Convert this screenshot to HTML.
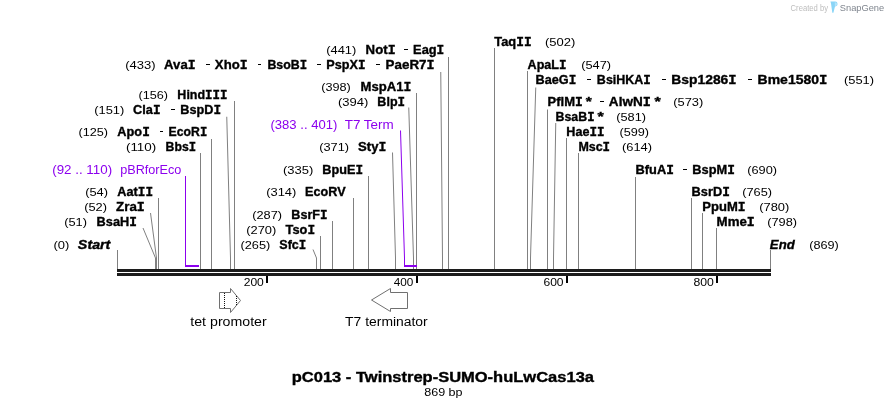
<!DOCTYPE html>
<html><head><meta charset="utf-8"><style>
html,body{margin:0;padding:0;background:#fff;}
svg{display:block;font-family:"Liberation Sans", sans-serif;will-change:transform;}
</style></head><body>
<svg width="888" height="408" viewBox="0 0 888 408">
<rect width="888" height="408" fill="#fff"/>
<rect x="117" y="269" width="654" height="3" fill="#1c1c1c"/>
<rect x="117" y="273" width="654" height="3" fill="#1c1c1c"/>
<rect x="266" y="276" width="2" height="7" fill="#000"/>
<rect x="416" y="276" width="2" height="7" fill="#000"/>
<rect x="566" y="276" width="2" height="7" fill="#000"/>
<rect x="716" y="276" width="2" height="7" fill="#000"/>
<rect x="117" y="250" width="1" height="19" fill="#808080"/>
<rect x="770" y="250" width="1" height="19" fill="#808080"/>
<rect x="158" y="198" width="1" height="71" fill="#808080"/>
<rect x="200" y="153" width="1" height="116" fill="#808080"/>
<rect x="211" y="139" width="1" height="130" fill="#808080"/>
<rect x="234" y="101" width="1" height="168" fill="#808080"/>
<rect x="320" y="236" width="1" height="33" fill="#808080"/>
<rect x="332" y="221" width="1" height="48" fill="#808080"/>
<rect x="353" y="198" width="1" height="71" fill="#808080"/>
<rect x="368" y="176" width="1" height="93" fill="#808080"/>
<rect x="416" y="93" width="1" height="176" fill="#808080"/>
<rect x="448" y="57" width="1" height="212" fill="#808080"/>
<rect x="494" y="48" width="1" height="221" fill="#808080"/>
<rect x="527" y="71" width="1" height="198" fill="#808080"/>
<rect x="547" y="109.5" width="1" height="159.5" fill="#808080"/>
<rect x="566" y="138" width="1" height="131" fill="#808080"/>
<rect x="578" y="153" width="1" height="116" fill="#808080"/>
<rect x="635" y="177" width="1" height="92" fill="#808080"/>
<rect x="691" y="198" width="1" height="71" fill="#808080"/>
<rect x="702" y="213" width="1" height="56" fill="#808080"/>
<rect x="716" y="228" width="1" height="41" fill="#808080"/>
<polyline points="150.5,213 156.5,258 156.5,269" fill="none" stroke="#808080" stroke-width="1"/>
<polyline points="143.0,228 155.5,258 155.5,269" fill="none" stroke="#808080" stroke-width="1"/>
<polyline points="226.75,116.75 230.5,258 230.5,269" fill="none" stroke="#808080" stroke-width="1"/>
<polyline points="313.0,249.5 316.5,258 316.5,269" fill="none" stroke="#808080" stroke-width="1"/>
<polyline points="392.5,152.5 395.5,258 395.5,269" fill="none" stroke="#808080" stroke-width="1"/>
<polyline points="408.75,107.5 413.5,258 413.5,269" fill="none" stroke="#808080" stroke-width="1"/>
<polyline points="440.75,72 442.5,258 442.5,269" fill="none" stroke="#808080" stroke-width="1"/>
<polyline points="535.75,87.5 530.5,258 530.5,269" fill="none" stroke="#808080" stroke-width="1"/>
<polyline points="555.75,123 553.5,258 553.5,269" fill="none" stroke="#808080" stroke-width="1"/>
<rect x="185" y="176" width="1" height="91" fill="#8c00ee"/>
<rect x="185" y="265" width="14" height="2" fill="#8c00ee"/>
<polyline points="400.5,130.5 404.5,258 404.5,265" fill="none" stroke="#8c00ee" stroke-width="1"/>
<rect x="404" y="265" width="13" height="2" fill="#8c00ee"/>
<rect x="206" y="64" width="4" height="1" fill="#000"/>
<rect x="258" y="64" width="3" height="1" fill="#000"/>
<rect x="317" y="64" width="4" height="1" fill="#000"/>
<rect x="376" y="64" width="4" height="1" fill="#000"/>
<rect x="404" y="49" width="4" height="1" fill="#000"/>
<rect x="171" y="109" width="4" height="1" fill="#000"/>
<rect x="160" y="131" width="3" height="1" fill="#000"/>
<rect x="587" y="79" width="4" height="1" fill="#000"/>
<rect x="662" y="79" width="4" height="1" fill="#000"/>
<rect x="748" y="79" width="4" height="1" fill="#000"/>
<rect x="600" y="101" width="4" height="1" fill="#000"/>
<rect x="683" y="169" width="4" height="1" fill="#000"/>
<polygon points="219.5,292.5 230.5,292.5 230.5,288.5 240.5,300.5 230.5,312.5 230.5,308.5 219.5,308.5" fill="#fff" stroke="#707070" stroke-width="1"/>
<rect x="224" y="293" width="1" height="1" fill="#111"/>
<rect x="224" y="295" width="1" height="1" fill="#111"/>
<rect x="224" y="297" width="1" height="1" fill="#111"/>
<rect x="224" y="299" width="1" height="1" fill="#111"/>
<rect x="224" y="301" width="1" height="1" fill="#111"/>
<rect x="224" y="303" width="1" height="1" fill="#111"/>
<rect x="224" y="305" width="1" height="1" fill="#111"/>
<rect x="224" y="307" width="1" height="1" fill="#111"/>
<rect x="236" y="296" width="1" height="1" fill="#111"/>
<rect x="236" y="298" width="1" height="1" fill="#111"/>
<rect x="236" y="300" width="1" height="1" fill="#111"/>
<rect x="236" y="302" width="1" height="1" fill="#111"/>
<rect x="236" y="304" width="1" height="1" fill="#111"/>
<polygon points="407.5,292.5 390.5,292.5 390.5,288.5 371.5,300 390.5,311.5 390.5,308.5 407.5,308.5" fill="#fff" stroke="#707070" stroke-width="1"/>
<text x="790.6" y="11" font-size="8.2" textLength="37.4" lengthAdjust="spacingAndGlyphs" fill="#bdbdbd">Created by</text>
<path d="M830.4,1.4 L835.2,1.4 C836.8,1.6 837.6,2.6 837.5,4.2 C837.4,5.6 836.4,6.4 835,6.4 L833.4,12.8 L832.3,12.8 L831,3.6 Z" fill="#8ad5f7"/>
<path d="M834.8,2.2 C836.4,2.3 837,3.2 837,4.2 C836.9,5.3 836.2,5.9 834.9,6 Z" fill="#b4e5fb"/>
<text x="839.8" y="11" font-size="9.6" textLength="44.4" lengthAdjust="spacingAndGlyphs" fill="#7f858e">SnapGene</text>
<text x="125.20" y="69" textLength="30.33" lengthAdjust="spacingAndGlyphs" font-size="11.3" font-weight="normal" font-style="normal" fill="#000">(433)</text>
<text x="164.12" y="69" textLength="31.46" lengthAdjust="spacingAndGlyphs" font-size="12.4" font-weight="bold" font-style="normal" fill="#000" stroke="#000" stroke-width="0.35">Ava<tspan font-family="Liberation Mono">I</tspan></text>
<text x="214.88" y="69" textLength="32.71" lengthAdjust="spacingAndGlyphs" font-size="12.4" font-weight="bold" font-style="normal" fill="#000" stroke="#000" stroke-width="0.35">Xho<tspan font-family="Liberation Mono">I</tspan></text>
<text x="267.38" y="69" textLength="39.68" lengthAdjust="spacingAndGlyphs" font-size="12.4" font-weight="bold" font-style="normal" fill="#000" stroke="#000" stroke-width="0.35">BsoB<tspan font-family="Liberation Mono">I</tspan></text>
<text x="326.38" y="69" textLength="39.19" lengthAdjust="spacingAndGlyphs" font-size="12.4" font-weight="bold" font-style="normal" fill="#000" stroke="#000" stroke-width="0.35">PspX<tspan font-family="Liberation Mono">I</tspan></text>
<text x="385.62" y="69" textLength="48.97" lengthAdjust="spacingAndGlyphs" font-size="12.4" font-weight="bold" font-style="normal" fill="#000" stroke="#000" stroke-width="0.35">PaeR7<tspan font-family="Liberation Mono">I</tspan></text>
<text x="326.20" y="54" textLength="30.08" lengthAdjust="spacingAndGlyphs" font-size="11.3" font-weight="normal" font-style="normal" fill="#000">(441)</text>
<text x="365.62" y="54" textLength="29.96" lengthAdjust="spacingAndGlyphs" font-size="12.4" font-weight="bold" font-style="normal" fill="#000" stroke="#000" stroke-width="0.35">Not<tspan font-family="Liberation Mono">I</tspan></text>
<text x="413.12" y="54" textLength="31.20" lengthAdjust="spacingAndGlyphs" font-size="12.4" font-weight="bold" font-style="normal" fill="#000" stroke="#000" stroke-width="0.35">Eag<tspan font-family="Liberation Mono">I</tspan></text>
<text x="138.45" y="99" textLength="29.58" lengthAdjust="spacingAndGlyphs" font-size="11.3" font-weight="normal" font-style="normal" fill="#000">(156)</text>
<text x="177.38" y="99" textLength="50.19" lengthAdjust="spacingAndGlyphs" font-size="12.4" font-weight="bold" font-style="normal" fill="#000" stroke="#000" stroke-width="0.35">Hind<tspan font-family="Liberation Mono">I</tspan><tspan font-family="Liberation Mono">I</tspan><tspan font-family="Liberation Mono">I</tspan></text>
<text x="94.20" y="114" textLength="30.08" lengthAdjust="spacingAndGlyphs" font-size="11.3" font-weight="normal" font-style="normal" fill="#000">(151)</text>
<text x="133.12" y="114" textLength="27.45" lengthAdjust="spacingAndGlyphs" font-size="12.4" font-weight="bold" font-style="normal" fill="#000" stroke="#000" stroke-width="0.35">Cla<tspan font-family="Liberation Mono">I</tspan></text>
<text x="180.38" y="114" textLength="40.70" lengthAdjust="spacingAndGlyphs" font-size="12.4" font-weight="bold" font-style="normal" fill="#000" stroke="#000" stroke-width="0.35">BspD<tspan font-family="Liberation Mono">I</tspan></text>
<text x="321.20" y="91" textLength="29.58" lengthAdjust="spacingAndGlyphs" font-size="11.3" font-weight="normal" font-style="normal" fill="#000">(398)</text>
<text x="360.62" y="91" textLength="50.71" lengthAdjust="spacingAndGlyphs" font-size="12.4" font-weight="bold" font-style="normal" fill="#000" stroke="#000" stroke-width="0.35">MspA1<tspan font-family="Liberation Mono">I</tspan></text>
<text x="337.95" y="106" textLength="30.33" lengthAdjust="spacingAndGlyphs" font-size="11.3" font-weight="normal" font-style="normal" fill="#000">(394)</text>
<text x="377.38" y="106" textLength="27.69" lengthAdjust="spacingAndGlyphs" font-size="12.4" font-weight="bold" font-style="normal" fill="#000" stroke="#000" stroke-width="0.35">Blp<tspan font-family="Liberation Mono">I</tspan></text>
<text x="270.45" y="129" textLength="66.91" lengthAdjust="spacingAndGlyphs" font-size="12.2" font-weight="normal" font-style="normal" fill="#8c00ee">(383 .. 401)</text>
<text x="344.70" y="129" textLength="49.02" lengthAdjust="spacingAndGlyphs" font-size="12.2" font-weight="normal" font-style="normal" fill="#8c00ee">T7 Term</text>
<text x="78.45" y="136" textLength="29.58" lengthAdjust="spacingAndGlyphs" font-size="11.3" font-weight="normal" font-style="normal" fill="#000">(125)</text>
<text x="117.38" y="136" textLength="32.45" lengthAdjust="spacingAndGlyphs" font-size="12.4" font-weight="bold" font-style="normal" fill="#000" stroke="#000" stroke-width="0.35">Apo<tspan font-family="Liberation Mono">I</tspan></text>
<text x="168.62" y="136" textLength="38.68" lengthAdjust="spacingAndGlyphs" font-size="12.4" font-weight="bold" font-style="normal" fill="#000" stroke="#000" stroke-width="0.35">EcoR<tspan font-family="Liberation Mono">I</tspan></text>
<text x="125.95" y="151" textLength="30.32" lengthAdjust="spacingAndGlyphs" font-size="11.3" font-weight="normal" font-style="normal" fill="#000">(110)</text>
<text x="165.62" y="151" textLength="30.43" lengthAdjust="spacingAndGlyphs" font-size="12.4" font-weight="bold" font-style="normal" fill="#000" stroke="#000" stroke-width="0.35">Bbs<tspan font-family="Liberation Mono">I</tspan></text>
<text x="319.20" y="151" textLength="29.83" lengthAdjust="spacingAndGlyphs" font-size="11.3" font-weight="normal" font-style="normal" fill="#000">(371)</text>
<text x="358.12" y="151" textLength="28.21" lengthAdjust="spacingAndGlyphs" font-size="12.4" font-weight="bold" font-style="normal" fill="#000" stroke="#000" stroke-width="0.35">Sty<tspan font-family="Liberation Mono">I</tspan></text>
<text x="52.20" y="174" textLength="59.91" lengthAdjust="spacingAndGlyphs" font-size="12.2" font-weight="normal" font-style="normal" fill="#8c00ee">(92 .. 110)</text>
<text x="120.20" y="174" textLength="61.12" lengthAdjust="spacingAndGlyphs" font-size="12.2" font-weight="normal" font-style="normal" fill="#8c00ee">pBRforEco</text>
<text x="282.95" y="174" textLength="30.33" lengthAdjust="spacingAndGlyphs" font-size="11.3" font-weight="normal" font-style="normal" fill="#000">(335)</text>
<text x="322.38" y="174" textLength="40.70" lengthAdjust="spacingAndGlyphs" font-size="12.4" font-weight="bold" font-style="normal" fill="#000" stroke="#000" stroke-width="0.35">BpuE<tspan font-family="Liberation Mono">I</tspan></text>
<text x="85.20" y="196" textLength="22.83" lengthAdjust="spacingAndGlyphs" font-size="11.3" font-weight="normal" font-style="normal" fill="#000">(54)</text>
<text x="117.38" y="196" textLength="35.70" lengthAdjust="spacingAndGlyphs" font-size="12.4" font-weight="bold" font-style="normal" fill="#000" stroke="#000" stroke-width="0.35">Aat<tspan font-family="Liberation Mono">I</tspan><tspan font-family="Liberation Mono">I</tspan></text>
<text x="266.20" y="196" textLength="30.08" lengthAdjust="spacingAndGlyphs" font-size="11.3" font-weight="normal" font-style="normal" fill="#000">(314)</text>
<text x="305.12" y="196" textLength="40.50" lengthAdjust="spacingAndGlyphs" font-size="12.4" font-weight="bold" font-style="normal" fill="#000" stroke="#000" stroke-width="0.35">EcoRV</text>
<text x="84.20" y="211" textLength="22.83" lengthAdjust="spacingAndGlyphs" font-size="11.3" font-weight="normal" font-style="normal" fill="#000">(52)</text>
<text x="116.12" y="211" textLength="28.72" lengthAdjust="spacingAndGlyphs" font-size="12.4" font-weight="bold" font-style="normal" fill="#000" stroke="#000" stroke-width="0.35">Zra<tspan font-family="Liberation Mono">I</tspan></text>
<text x="252.20" y="219" textLength="29.83" lengthAdjust="spacingAndGlyphs" font-size="11.3" font-weight="normal" font-style="normal" fill="#000">(287)</text>
<text x="291.38" y="219" textLength="36.19" lengthAdjust="spacingAndGlyphs" font-size="12.4" font-weight="bold" font-style="normal" fill="#000" stroke="#000" stroke-width="0.35">BsrF<tspan font-family="Liberation Mono">I</tspan></text>
<text x="64.20" y="226" textLength="22.83" lengthAdjust="spacingAndGlyphs" font-size="11.3" font-weight="normal" font-style="normal" fill="#000">(51)</text>
<text x="96.62" y="226" textLength="40.20" lengthAdjust="spacingAndGlyphs" font-size="12.4" font-weight="bold" font-style="normal" fill="#000" stroke="#000" stroke-width="0.35">BsaH<tspan font-family="Liberation Mono">I</tspan></text>
<text x="246.20" y="234" textLength="30.08" lengthAdjust="spacingAndGlyphs" font-size="11.3" font-weight="normal" font-style="normal" fill="#000">(270)</text>
<text x="285.62" y="234" textLength="29.45" lengthAdjust="spacingAndGlyphs" font-size="12.4" font-weight="bold" font-style="normal" fill="#000" stroke="#000" stroke-width="0.35">Tso<tspan font-family="Liberation Mono">I</tspan></text>
<text x="53.45" y="249" textLength="15.83" lengthAdjust="spacingAndGlyphs" font-size="11.3" font-weight="normal" font-style="normal" fill="#000">(0)</text>
<text x="77.88" y="249" textLength="32.49" lengthAdjust="spacingAndGlyphs" font-size="12.4" font-weight="bold" font-style="italic" fill="#000" stroke="#000" stroke-width="0.35">Start</text>
<text x="240.45" y="249" textLength="29.83" lengthAdjust="spacingAndGlyphs" font-size="11.3" font-weight="normal" font-style="normal" fill="#000">(265)</text>
<text x="279.38" y="249" textLength="26.94" lengthAdjust="spacingAndGlyphs" font-size="12.4" font-weight="bold" font-style="normal" fill="#000" stroke="#000" stroke-width="0.35">Sfc<tspan font-family="Liberation Mono">I</tspan></text>
<text x="494.38" y="46" textLength="37.20" lengthAdjust="spacingAndGlyphs" font-size="12.4" font-weight="bold" font-style="normal" fill="#000" stroke="#000" stroke-width="0.35">Taq<tspan font-family="Liberation Mono">I</tspan><tspan font-family="Liberation Mono">I</tspan></text>
<text x="544.95" y="46" textLength="30.33" lengthAdjust="spacingAndGlyphs" font-size="11.3" font-weight="normal" font-style="normal" fill="#000">(502)</text>
<text x="527.62" y="69" textLength="38.94" lengthAdjust="spacingAndGlyphs" font-size="12.4" font-weight="bold" font-style="normal" fill="#000" stroke="#000" stroke-width="0.35">ApaL<tspan font-family="Liberation Mono">I</tspan></text>
<text x="581.20" y="69" textLength="29.83" lengthAdjust="spacingAndGlyphs" font-size="11.3" font-weight="normal" font-style="normal" fill="#000">(547)</text>
<text x="535.62" y="84" textLength="40.70" lengthAdjust="spacingAndGlyphs" font-size="12.4" font-weight="bold" font-style="normal" fill="#000" stroke="#000" stroke-width="0.35">BaeG<tspan font-family="Liberation Mono">I</tspan></text>
<text x="596.88" y="84" textLength="53.94" lengthAdjust="spacingAndGlyphs" font-size="12.4" font-weight="bold" font-style="normal" fill="#000" stroke="#000" stroke-width="0.35">BsiHKA<tspan font-family="Liberation Mono">I</tspan></text>
<text x="671.38" y="84" textLength="65.24" lengthAdjust="spacingAndGlyphs" font-size="12.4" font-weight="bold" font-style="normal" fill="#000" stroke="#000" stroke-width="0.35">Bsp1286<tspan font-family="Liberation Mono">I</tspan></text>
<text x="757.62" y="84" textLength="69.74" lengthAdjust="spacingAndGlyphs" font-size="12.4" font-weight="bold" font-style="normal" fill="#000" stroke="#000" stroke-width="0.35">Bme1580<tspan font-family="Liberation Mono">I</tspan></text>
<text x="843.95" y="84" textLength="30.08" lengthAdjust="spacingAndGlyphs" font-size="11.3" font-weight="normal" font-style="normal" fill="#000">(551)</text>
<text x="547.62" y="106" textLength="35.21" lengthAdjust="spacingAndGlyphs" font-size="12.4" font-weight="bold" font-style="normal" fill="#000" stroke="#000" stroke-width="0.35">PflM<tspan font-family="Liberation Mono">I</tspan></text>
<text x="585.88" y="106" textLength="6.03" lengthAdjust="spacingAndGlyphs" font-size="12.4" font-weight="bold" font-style="normal" fill="#000" stroke="#000" stroke-width="0.35">*</text>
<text x="608.88" y="106" textLength="41.98" lengthAdjust="spacingAndGlyphs" font-size="12.4" font-weight="bold" font-style="normal" fill="#000" stroke="#000" stroke-width="0.35">AlwN<tspan font-family="Liberation Mono">I</tspan></text>
<text x="654.62" y="106" textLength="6.27" lengthAdjust="spacingAndGlyphs" font-size="12.4" font-weight="bold" font-style="normal" fill="#000" stroke="#000" stroke-width="0.35">*</text>
<text x="673.20" y="106" textLength="30.08" lengthAdjust="spacingAndGlyphs" font-size="11.3" font-weight="normal" font-style="normal" fill="#000">(573)</text>
<text x="555.62" y="121" textLength="38.93" lengthAdjust="spacingAndGlyphs" font-size="12.4" font-weight="bold" font-style="normal" fill="#000" stroke="#000" stroke-width="0.35">BsaB<tspan font-family="Liberation Mono">I</tspan></text>
<text x="597.62" y="121" textLength="6.27" lengthAdjust="spacingAndGlyphs" font-size="12.4" font-weight="bold" font-style="normal" fill="#000" stroke="#000" stroke-width="0.35">*</text>
<text x="616.20" y="121" textLength="29.83" lengthAdjust="spacingAndGlyphs" font-size="11.3" font-weight="normal" font-style="normal" fill="#000">(581)</text>
<text x="566.38" y="136" textLength="38.19" lengthAdjust="spacingAndGlyphs" font-size="12.4" font-weight="bold" font-style="normal" fill="#000" stroke="#000" stroke-width="0.35">Hae<tspan font-family="Liberation Mono">I</tspan><tspan font-family="Liberation Mono">I</tspan></text>
<text x="619.45" y="136" textLength="29.58" lengthAdjust="spacingAndGlyphs" font-size="11.3" font-weight="normal" font-style="normal" fill="#000">(599)</text>
<text x="578.38" y="151" textLength="31.69" lengthAdjust="spacingAndGlyphs" font-size="12.4" font-weight="bold" font-style="normal" fill="#000" stroke="#000" stroke-width="0.35">Msc<tspan font-family="Liberation Mono">I</tspan></text>
<text x="621.95" y="151" textLength="30.08" lengthAdjust="spacingAndGlyphs" font-size="11.3" font-weight="normal" font-style="normal" fill="#000">(614)</text>
<text x="635.62" y="174" textLength="38.20" lengthAdjust="spacingAndGlyphs" font-size="12.4" font-weight="bold" font-style="normal" fill="#000" stroke="#000" stroke-width="0.35">BfuA<tspan font-family="Liberation Mono">I</tspan></text>
<text x="692.38" y="174" textLength="42.45" lengthAdjust="spacingAndGlyphs" font-size="12.4" font-weight="bold" font-style="normal" fill="#000" stroke="#000" stroke-width="0.35">BspM<tspan font-family="Liberation Mono">I</tspan></text>
<text x="747.20" y="174" textLength="29.83" lengthAdjust="spacingAndGlyphs" font-size="11.3" font-weight="normal" font-style="normal" fill="#000">(690)</text>
<text x="691.62" y="196" textLength="38.20" lengthAdjust="spacingAndGlyphs" font-size="12.4" font-weight="bold" font-style="normal" fill="#000" stroke="#000" stroke-width="0.35">BsrD<tspan font-family="Liberation Mono">I</tspan></text>
<text x="742.20" y="196" textLength="29.83" lengthAdjust="spacingAndGlyphs" font-size="11.3" font-weight="normal" font-style="normal" fill="#000">(765)</text>
<text x="702.38" y="211" textLength="43.21" lengthAdjust="spacingAndGlyphs" font-size="12.4" font-weight="bold" font-style="normal" fill="#000" stroke="#000" stroke-width="0.35">PpuM<tspan font-family="Liberation Mono">I</tspan></text>
<text x="759.20" y="211" textLength="30.08" lengthAdjust="spacingAndGlyphs" font-size="11.3" font-weight="normal" font-style="normal" fill="#000">(780)</text>
<text x="716.62" y="226" textLength="38.22" lengthAdjust="spacingAndGlyphs" font-size="12.4" font-weight="bold" font-style="normal" fill="#000" stroke="#000" stroke-width="0.35">Mme<tspan font-family="Liberation Mono">I</tspan></text>
<text x="767.20" y="226" textLength="29.83" lengthAdjust="spacingAndGlyphs" font-size="11.3" font-weight="normal" font-style="normal" fill="#000">(798)</text>
<text x="769.88" y="249" textLength="24.79" lengthAdjust="spacingAndGlyphs" font-size="12.4" font-weight="bold" font-style="italic" fill="#000" stroke="#000" stroke-width="0.35">End</text>
<text x="809.20" y="249" textLength="29.58" lengthAdjust="spacingAndGlyphs" font-size="11.3" font-weight="normal" font-style="normal" fill="#000">(869)</text>
<text x="243.70" y="286" textLength="20.15" lengthAdjust="spacingAndGlyphs" font-size="11.3" font-weight="normal" font-style="normal" fill="#000">200</text>
<text x="393.70" y="286" textLength="19.64" lengthAdjust="spacingAndGlyphs" font-size="11.3" font-weight="normal" font-style="normal" fill="#000">400</text>
<text x="543.45" y="286" textLength="20.15" lengthAdjust="spacingAndGlyphs" font-size="11.3" font-weight="normal" font-style="normal" fill="#000">600</text>
<text x="693.45" y="286" textLength="20.41" lengthAdjust="spacingAndGlyphs" font-size="11.3" font-weight="normal" font-style="normal" fill="#000">800</text>
<text x="190.30" y="326" textLength="76.43" lengthAdjust="spacingAndGlyphs" font-size="12.5" font-weight="normal" font-style="normal" fill="#000">tet promoter</text>
<text x="345.10" y="326" textLength="82.63" lengthAdjust="spacingAndGlyphs" font-size="12.5" font-weight="normal" font-style="normal" fill="#000">T7 terminator</text>
<text x="291.77" y="382" textLength="302.22" lengthAdjust="spacingAndGlyphs" font-size="14.2" font-weight="bold" font-style="normal" fill="#000" stroke="#000" stroke-width="0.35">pC013 - Twinstrep-SUMO-huLwCas13a</text>
<text x="424.20" y="396" textLength="38.41" lengthAdjust="spacingAndGlyphs" font-size="11.3" font-weight="normal" font-style="normal" fill="#000">869 bp</text>
</svg>
</body></html>
